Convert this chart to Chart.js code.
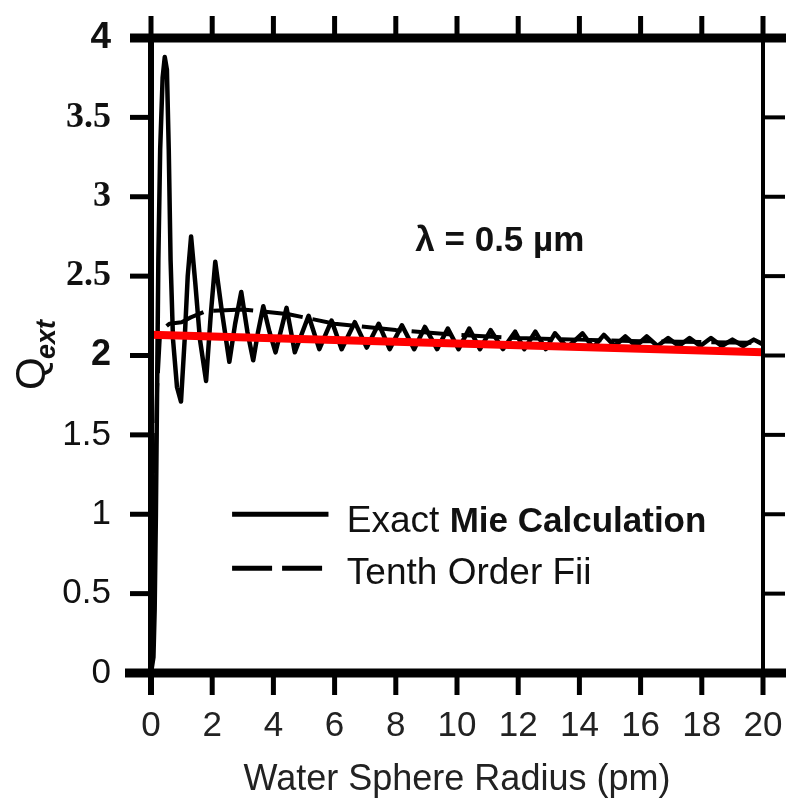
<!DOCTYPE html>
<html>
<head>
<meta charset="utf-8">
<script src="https://cdn.jsdelivr.net/npm/chart.js@4.4.0/dist/chart.umd.min.js"></script>
<style>
  html, body { margin: 0; padding: 0; background: #fff; }
  #wrap { width: 787px; height: 805px; }
</style>
</head>
<body>
<div id="wrap"><canvas id="qChart" width="787" height="805"></canvas></div>
<script>
// values
const exactX = [0, 0.08, 0.12, 0.16, 0.2, 0.24, 0.3, 0.38, 0.45, 0.52, 0.58, 0.64, 0.72, 0.85, 0.98,
  1.1, 1.2, 1.31, 1.45, 1.6, 1.8, 1.95, 2.1, 2.3, 2.56, 2.75, 2.95, 3.15, 3.34, 3.5, 3.67, 3.87, 4.07,
  4.43, 4.7, 5.15, 5.5, 5.9, 6.23, 6.66, 7.05, 7.44, 7.8, 8.2, 8.6, 8.95, 9.35, 9.7, 10.05, 10.4, 10.75,
  11.1, 11.5, 11.9, 12.2, 12.56, 12.9, 13.2, 13.6, 14.1, 14.45, 14.8, 15.15, 15.5, 15.85, 16.2, 16.55,
  16.9, 17.25, 17.6, 17.95, 18.3, 18.65, 19.0, 19.35, 19.7, 20];
const exactY = [0, 0.1, 0.4, 1.0, 1.8, 2.6, 3.3, 3.75, 3.88, 3.8, 3.3, 2.6, 2.1, 1.8, 1.71,
  2.1, 2.5, 2.75, 2.45, 2.1, 1.84, 2.25, 2.59, 2.3, 1.96, 2.2, 2.40, 2.15, 1.97, 2.15, 2.31, 2.15, 2.02,
  2.30, 2.02, 2.25, 2.04, 2.22, 2.04, 2.21, 2.05, 2.20, 2.04, 2.19, 2.04, 2.18, 2.04, 2.17, 2.04, 2.17, 2.04,
  2.16, 2.04, 2.15, 2.04, 2.15, 2.04, 2.14, 2.05, 2.14, 2.05, 2.13, 2.06, 2.12, 2.06, 2.12, 2.06,
  2.11, 2.06, 2.11, 2.06, 2.11, 2.06, 2.10, 2.06, 2.10, 2.07];

const fitX = [0, 0.1, 0.2, 0.3, 0.6, 1.0, 1.3, 1.8, 3.0, 4.5, 6, 8, 10, 12, 14, 16, 18, 20];
const fitY = [0, 0.8, 1.8, 2.15, 2.2, 2.21, 2.24, 2.28, 2.29, 2.26, 2.2, 2.16, 2.13, 2.11, 2.1, 2.09, 2.085, 2.08];

const redX = [0, 20];
const redY = [2.13, 2.02];

const xTicks = [0, 2, 4, 6, 8, 10, 12, 14, 16, 18, 20];
const yTicks = [0, 0.5, 1, 1.5, 2, 2.5, 3, 3.5, 4];
const yTickLabels = ['0', '0.5', '1', '1.5', '2', '2.5', '3', '3.5', '4'];

const seriesNames = ['Exact ', 'Mie Calculation', 'Tenth Order Fii'];
const xTitle = 'Water Sphere Radius (pm)';
const noteText = 'λ = 0.5 µm';

const SANS = "'Liberation Sans', Arial, sans-serif";
const SERIF = "'Liberation Serif', 'DejaVu Serif', serif";

const toPts = (xs, ys) => xs.map((x, i) => ({ x: x, y: ys[i] }));

// frame, outward ticks, note, y label and legend
const decorations = {
  id: 'decorations',
  afterDraw(chart) {
    const ctx = chart.ctx;
    const xs = chart.scales.x, ys = chart.scales.y;
    const L = xs.getPixelForValue(0), R = xs.getPixelForValue(20);
    const T = ys.getPixelForValue(4), B = ys.getPixelForValue(0);
    ctx.save();
    ctx.strokeStyle = '#000';
    ctx.lineCap = 'butt';

    ctx.lineWidth = 9;
    ctx.beginPath(); ctx.moveTo(L - 21, T); ctx.lineTo(786, T); ctx.stroke();
    ctx.beginPath(); ctx.moveTo(L - 26, B); ctx.lineTo(786, B); ctx.stroke();
    ctx.lineWidth = 6;
    ctx.beginPath(); ctx.moveTo(L, T); ctx.lineTo(L, B + 22); ctx.stroke();
    ctx.lineWidth = 4;
    ctx.beginPath(); ctx.moveTo(R, T - 22); ctx.lineTo(R, B + 22); ctx.stroke();

    yTicks.forEach(v => {
      const y = ys.getPixelForValue(v);
      ctx.lineWidth = 5;
      ctx.beginPath(); ctx.moveTo(L - 21, y); ctx.lineTo(L, y); ctx.stroke();
      ctx.lineWidth = 4;
      ctx.beginPath(); ctx.moveTo(R, y); ctx.lineTo(R + 22, y); ctx.stroke();
    });
    xTicks.forEach(v => {
      const x = xs.getPixelForValue(v);
      ctx.lineWidth = 5;
      ctx.beginPath(); ctx.moveTo(x, T); ctx.lineTo(x, T - 22); ctx.stroke();
      ctx.beginPath(); ctx.moveTo(x, B); ctx.lineTo(x, B + 22); ctx.stroke();
    });

    // lambda note
    ctx.fillStyle = '#111';
    ctx.font = 'bold 35px ' + SANS;
    ctx.textAlign = 'center';
    ctx.textBaseline = 'alphabetic';
    ctx.fillText(noteText, xs.getPixelForValue(11.4), ys.getPixelForValue(2.66));

    // y axis label Q_ext
    ctx.save();
    ctx.translate(45, 390);
    ctx.rotate(-Math.PI / 2);
    ctx.textAlign = 'left';
    ctx.font = '42px ' + SANS;
    ctx.fillText('Q', 0, 0);
    ctx.font = 'italic bold 27px ' + SANS;
    ctx.fillText('ext', 31, 10);
    ctx.restore();

    // legend
    const ds = chart.data.datasets;
    const lx0 = xs.getPixelForValue(2.65), lx1 = xs.getPixelForValue(5.8);
    const tx = xs.getPixelForValue(6.4);
    const rows = [ys.getPixelForValue(1.0), ys.getPixelForValue(0.66)];
    [1, 2].forEach((di, k) => {
      const y = rows[k];
      ctx.strokeStyle = ds[di].borderColor;
      ctx.lineWidth = 5;
      ctx.setLineDash(ds[di].borderDash || []);
      ctx.beginPath(); ctx.moveTo(lx0, y); ctx.lineTo(lx1, y); ctx.stroke();
      ctx.setLineDash([]);
    });
    ctx.textAlign = 'left';
    ctx.fillStyle = '#111';
    ctx.font = '37px ' + SANS;
    ctx.fillText(seriesNames[0], tx, rows[0] + 18);
    const w0 = ctx.measureText(seriesNames[0]).width;
    ctx.font = 'bold 35px ' + SANS;
    ctx.fillText(seriesNames[1], tx + w0, rows[0] + 18);
    ctx.font = '37px ' + SANS;
    ctx.fillText(seriesNames[2], tx, rows[1] + 16);
    ctx.restore();
  }
};

new Chart(document.getElementById('qChart'), {
  type: 'line',
  data: {
    datasets: [
      { label: 'red', data: toPts(redX, redY), borderColor: '#ff0000', borderWidth: 8, pointRadius: 0, order: 0 },
      { label: seriesNames[0] + seriesNames[1], data: toPts(exactX, exactY), borderColor: '#000', borderWidth: 4.5, pointRadius: 0, order: 1 },
      { label: seriesNames[2], data: toPts(fitX, fitY), borderColor: '#000', borderWidth: 4, borderDash: [40, 10], pointRadius: 0, order: 2 }
    ]
  },
  options: {
    responsive: false,
    animation: false,
    layout: { padding: { top: 38, right: 24, left: 0, bottom: 0 } },
    plugins: { legend: { display: false }, tooltip: { enabled: false } },
    elements: { line: { tension: 0, borderJoinStyle: 'round' } },
    scales: {
      x: {
        type: 'linear', min: 0, max: 20,
        afterBuildTicks: s => { s.ticks = xTicks.map(v => ({ value: v })); },
        afterFit: s => { s.height = 132; s.paddingLeft = 0; s.paddingRight = 0; },
        grid: { display: false, drawTicks: false },
        border: { display: false },
        ticks: { padding: 32, maxRotation: 0, color: '#222', font: { family: SANS, size: 35 } },
        title: { display: true, text: xTitle, color: '#222', font: { family: SANS, size: 36 }, padding: { top: 0, bottom: 3 } }
      },
      y: {
        type: 'linear', min: 0, max: 4,
        afterBuildTicks: s => { s.ticks = yTicks.map(v => ({ value: v })); },
        afterFit: s => { s.width = 151; s.paddingTop = 0; s.paddingBottom = 0; },
        grid: { display: false, drawTicks: false },
        border: { display: false },
        ticks: {
          padding: 40,
          color: '#111',
          callback: (v, i) => yTickLabels[i],
          font: c => {
            const v = c.tick ? c.tick.value : 0;
            if (v === 4) return { family: SANS, size: 37, weight: 'bold' };
            if (v >= 2.5) return { family: SERIF, size: 36, weight: 'bold' };
            if (v === 2) return { family: SANS, size: 36, weight: 'bold' };
            return { family: SANS, size: 35 };
          }
        }
      }
    }
  },
  plugins: [decorations]
});
</script>
</body>
</html>
